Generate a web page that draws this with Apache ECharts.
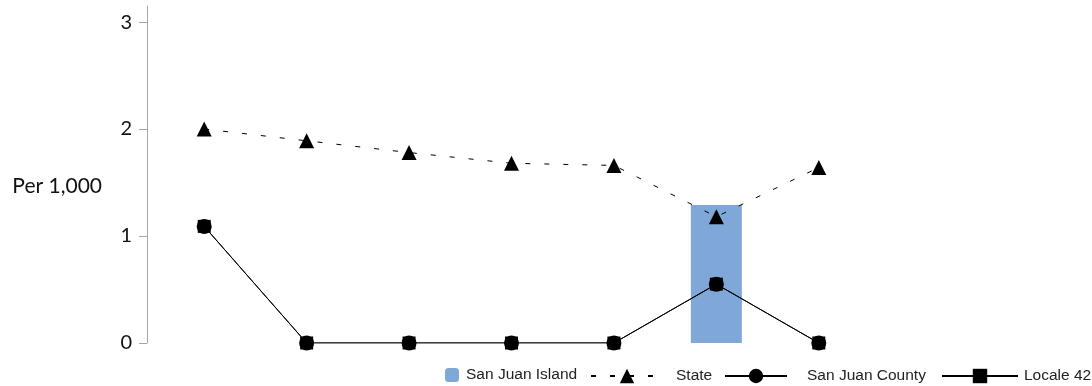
<!DOCTYPE html>
<html>
<head>
<meta charset="utf-8">
<title>Per 1,000</title>
<script src="https://cdn.jsdelivr.net/npm/echarts@6/dist/echarts.min.js"></script>
<style>
  html, body { margin: 0; padding: 0; background: #fff; }
  #chart { width: 1092px; height: 386px; }
</style>
</head>
<body>
<div id="chart"></div>
<script>
// categories have no visible labels in the source
const categories = ['1', '2', '3', '4', '5', '6', '7']
const island = [null, null, null, null, null, 1.29, null]
const state = [2.0, 1.89, 1.78, 1.68, 1.66, 1.18, 1.64]
const county = [1.09, 0, 0, 0, 0, 0.55, 0]
const locale = [1.09, 0, 0, 0, 0, 0.55, 0]
const yTicks = [0, 1, 2, 3]

const chart = echarts.init(document.getElementById('chart'))

// one legend per entry so each icon can have its own width
const legendText = { fontFamily: 'Liberation Sans', fontSize: 15.5, color: '#222' }
function legendFor(name, left, w, gap) {
  const isBar = name === 'San Juan Island'
  return {
    left: left,
    top: isBar ? 367 : 368,
    padding: 0,
    itemWidth: w,
    itemHeight: isBar ? 14 : 18,
    selectedMode: false,
    textStyle: Object.assign({}, legendText, { padding: [0, 0, 0, gap] }),
    data: [name]
  }
}

const option = {
  animation: false,
  textStyle: { fontFamily: 'Lato' },
  grid: { left: 153, right: 222, top: 6, bottom: 43 },
  legend: [
    legendFor('San Juan Island', 445, 14, 2),
    legendFor('State', 590, 72, 8),
    legendFor('San Juan County', 724, 62, 15),
    legendFor('Locale 42', 941, 76, 1)
  ],
  xAxis: {
    type: 'category',
    data: categories,
    boundaryGap: true,
    axisLine: { show: false },
    axisTick: { show: false },
    axisLabel: { show: false }
  },
  yAxis: {
    type: 'value',
    min: 0,
    max: 3.15,
    interval: 1,
    offset: 6,
    name: 'Per 1,000',
    nameLocation: 'middle',
    nameRotate: 0,
    nameGap: 45,
    nameTextStyle: { fontSize: 21, color: '#111', align: 'right', verticalAlign: 'top', padding: [1, 0, 0, 0] },
    axisLine: { show: true, lineStyle: { color: '#a6a6a6', width: 1 } },
    axisTick: { show: true, length: 8, lineStyle: { color: '#a6a6a6' }, customValues: yTicks },
    axisLabel: { fontSize: 20, color: '#111', margin: 15, customValues: yTicks },
    splitLine: { show: false }
  },
  series: [
    {
      name: 'San Juan Island',
      type: 'bar',
      data: island,
      barWidth: 51,
      itemStyle: { color: '#7fa7d8' }
    },
    {
      name: 'State',
      type: 'line',
      data: state,
      symbol: 'triangle',
      symbolSize: 15,
      itemStyle: { color: '#000' },
      lineStyle: { color: '#000', width: 1, type: [5, 14] }
    },
    {
      name: 'San Juan County',
      type: 'line',
      data: county,
      symbol: 'circle',
      symbolSize: 15,
      itemStyle: { color: '#000' },
      lineStyle: { color: '#000', width: 1 }
    },
    {
      name: 'Locale 42',
      type: 'line',
      data: locale,
      symbol: 'rect',
      symbolSize: 13,
      itemStyle: { color: '#000' },
      lineStyle: { color: '#000', width: 1 }
    }
  ]
}

chart.setOption(option)
</script>
</body>
</html>
